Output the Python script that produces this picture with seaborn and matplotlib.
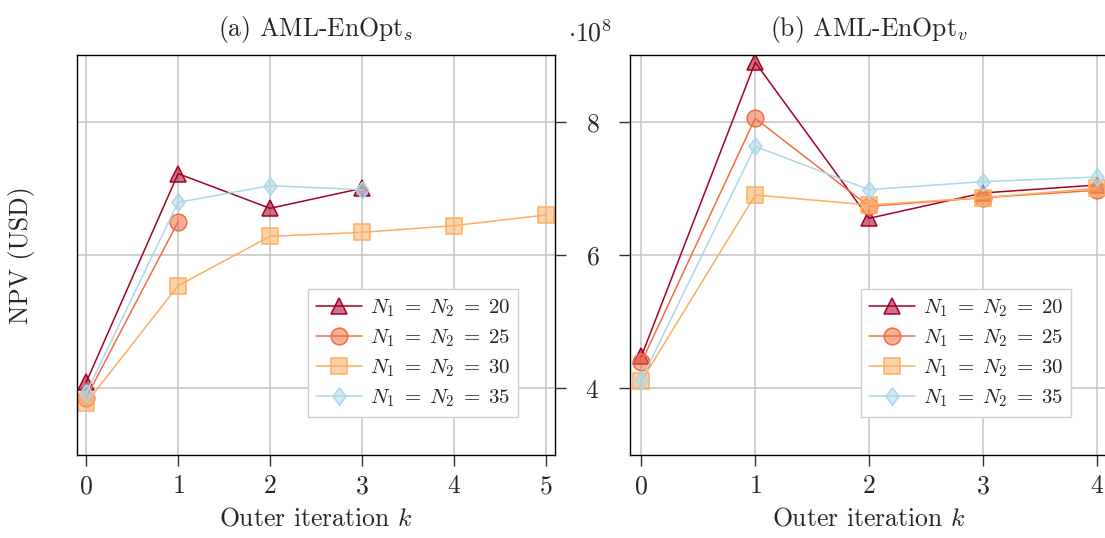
import matplotlib
matplotlib.use('Agg')
import numpy as np
import pandas as pd
import matplotlib.pyplot as plt
import seaborn as sns
from matplotlib.colors import to_rgba

# Valores (NPV em unidades de 1e8 USD)
iter_s = [0, 1, 2, 3, 4, 5]
npv_s_20 = [4.09, 7.22, 6.70, 7.00]
npv_s_25 = [3.86, 6.50]
npv_s_30 = [3.78, 5.54, 6.28, 6.34, 6.44, 6.60]
npv_s_35 = [3.93, 6.79, 7.04, 6.98]

iter_v = [0, 1, 2, 3, 4]
npv_v_20 = [4.48, 8.89, 6.55, 6.93, 7.05]
npv_v_25 = [4.39, 8.05, 6.73, 6.86, 6.97]
npv_v_30 = [4.11, 6.90, 6.75, 6.86, 7.00]
npv_v_35 = [4.13, 7.63, 6.98, 7.10, 7.17]

tamanhos = [20, 25, 30, 35]
cores = ['#a50026', '#f46d43', '#fdae61', '#abd9e9']
# losango um pouco mais largo que o 'd' do matplotlib
losango = [(0, 1), (0.75, 0), (0, -1), (-0.75, 0), (0, 1)]
marcadores = ['^', 'o', 's', losango]
tam_marc = [12, 12, 12, 12.5]

sns.set_style("whitegrid")
plt.rcParams['font.family'] = ['serif']
plt.rcParams['font.serif'] = ['cmr10', 'DejaVu Serif']
plt.rcParams['mathtext.fontset'] = 'cm'
plt.rcParams['axes.unicode_minus'] = False
plt.rcParams['axes.formatter.use_mathtext'] = True

fig = plt.figure(figsize=(11.05, 5.38), dpi=100)
ax_s = fig.add_axes([77 / 1105, 83 / 538, 478 / 1105, 400 / 538])
ax_v = fig.add_axes([630 / 1105, 83 / 538, 478 / 1105, 400 / 538])

series_s = [npv_s_20, npv_s_25, npv_s_30, npv_s_35]
series_v = [npv_v_20, npv_v_25, npv_v_30, npv_v_35]


def desenhar(ax, iters, series):
    for n, vals, cor, mk, ms in zip(tamanhos, series, cores, marcadores, tam_marc):
        df = pd.DataFrame({'k': iters[:len(vals)], 'npv': vals})
        sns.lineplot(data=df, x='k', y='npv', ax=ax, color=cor, linewidth=1.1,
                     marker=mk, markersize=ms,
                     markerfacecolor=to_rgba(cor, 0.55), markeredgecolor=cor,
                     markeredgewidth=1.1, label=rf'$N_1\;=\;N_2\;=\;{n}$')
    ax.set_ylim(3, 9)
    ax.set_yticks([4, 6, 8])
    ax.set_xticks(iters)
    ax.set_xlim(-0.1, iters[-1] + 0.1)
    ax.grid(True, color='#c4c4c4', linewidth=1.1)
    for sp in ax.spines.values():
        sp.set_color('black')
        sp.set_linewidth(1.0)
    ax.set_xlabel(r'Outer iteration $k$', fontsize=18.5, labelpad=6)
    ax.set_ylabel('')
    ax.tick_params(axis='x', which='major', bottom=True, direction='out', length=8,
                   width=1.0, color='#333333', labelsize=18.5, pad=6)
    leg = ax.legend(loc='lower right', bbox_to_anchor=(1 - 37 / 478, 38 / 400),
                    borderaxespad=0, fontsize=15, frameon=True, fancybox=False,
                    framealpha=1, edgecolor='#d0d0d0', handlelength=2.2,
                    handletextpad=0.35, labelspacing=0.4, borderpad=0.4)
    leg.get_frame().set_linewidth(1.0)


desenhar(ax_s, iter_s, series_s)
desenhar(ax_v, iter_v, series_v)

ax_s.tick_params(axis='y', left=False, right=True, labelleft=False, labelright=False,
                 direction='out', length=8, width=1.0, color='#333333')
ax_v.tick_params(axis='y', left=True, right=False, labelleft=True, direction='out',
                 length=8, width=1.0, color='#333333', labelsize=18.5, pad=14)
ax_s.set_ylabel('NPV (USD)', fontsize=18.5)
ax_s.yaxis.set_label_coords(-0.088, 0.5)

ax_s.set_title(r'(a) AML-EnOpt$_s$', fontsize=18.5, pad=14)
ax_v.set_title(r'(b) AML-EnOpt$_v$', fontsize=18.5, pad=14)
fig.text(590 / 1105, 1 - 33 / 538, r'$\cdot 10^{8}$', fontsize=18.5, ha='center', va='center')

fig.savefig('out.png', dpi=100)
